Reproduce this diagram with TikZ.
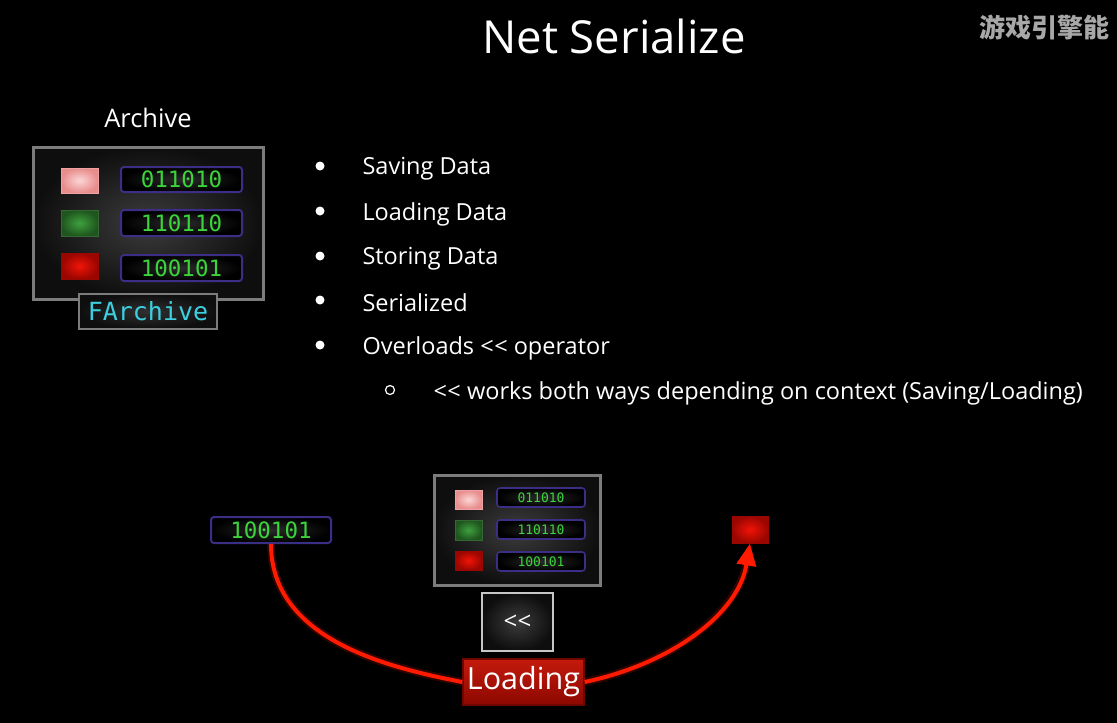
\documentclass[tikz,border=0pt]{standalone}
\usepackage{fontspec}
\setmainfont{Open Sans}
\setmonofont{DejaVu Sans Mono}
\newfontfamily\cjkfont{Noto Sans CJK SC}
\usetikzlibrary{arrows.meta}

\definecolor{framegray}{HTML}{7C7C7C}
\definecolor{panelmid}{HTML}{3C3C3C}
\definecolor{paneledge}{HTML}{0E0E0E}
\definecolor{cellborder}{HTML}{3A2E86}
\definecolor{cellmid}{HTML}{2A2A2A}
\definecolor{bitgreen}{HTML}{3BD43B}
\definecolor{clscyan}{HTML}{3CCFE0}
\definecolor{wirered}{HTML}{FF1A00}
\definecolor{pinkin}{HTML}{FBD6D6}
\definecolor{pinkout}{HTML}{E88C8C}
\definecolor{greenin}{HTML}{3FA03F}
\definecolor{greenout}{HTML}{1E561E}
\definecolor{redin}{HTML}{F01408}
\definecolor{redout}{HTML}{9A0600}
\definecolor{loadtop}{HTML}{C41A0C}
\definecolor{loadbot}{HTML}{8C0800}
\definecolor{markgray}{HTML}{A8A8A8}

% two plain less-than signs, kept apart so the font does not join them
\newcommand{\shl}{{<}\kern0.5pt{<}}

\tikzset{
  panel/.style={draw=framegray, line width=3pt, inner color=panelmid, outer color=paneledge, inner sep=0pt},
  cell/.style={draw=cellborder, line width=2pt, rounded corners=3pt, inner color=cellmid, outer color=black,
               text=bitgreen, inner sep=0pt},
  bigbits/.style={cell, font=\ttfamily\fontsize{22.5}{22}\selectfont},
  smallbits/.style={cell, line width=1.6pt, font=\ttfamily\fontsize{13}{13}\selectfont},
  pinkchip/.style={draw=pinkout!80!white, line width=1pt, inner color=pinkin, outer color=pinkout, inner sep=0pt},
  greenchip/.style={draw=greenout!90!white, line width=1pt, inner color=greenin, outer color=greenout, inner sep=0pt},
  redchip/.style={draw=redout, line width=1pt, inner color=redin, outer color=redout, inner sep=0pt},
  bullettext/.style={anchor=west, text=white, font=\fontsize{23.5}{26}\selectfont},
  bulletdot/.style={circle, fill=white, minimum size=9pt, inner sep=0pt},
  subdot/.style={circle, draw=white, line width=1.2pt, minimum size=9pt, inner sep=0pt},
  wire/.style={draw=wirered, line width=4pt},
  glow/.style={draw=wirered, line width=8pt, opacity=0.18},
  loadbox/.style={draw=loadbot!80!black, line width=1.5pt, top color=loadtop, bottom color=loadbot,
      minimum width=121pt, minimum height=46pt, inner sep=0pt, text=white,
      font=\fontsize{30.5}{31}\selectfont},
}

\begin{document}
\begin{tikzpicture}[x=1pt,y=-1pt]
\useasboundingbox (0,0) rectangle (1117,723);
\fill[black] (0,0) rectangle (1117,723);

% heading and corner mark
\node[text=white, font=\fontsize{45.5}{48}\selectfont] (title) at (614,36) {Net Serialize};
\node[anchor=west, text=markgray, font=\cjkfont\bfseries\fontsize{26}{26}\selectfont] (mark) at (976,27) {游戏引擎能};

% large archive panel
\node[text=white, font=\fontsize{25.5}{28}\selectfont] (archlabel) at (148,118) {Archive};
\node[panel, minimum width=230pt, minimum height=152pt] (arch) at (148,223) {};
\node[pinkchip,  minimum width=37pt, minimum height=25pt] (p1) at (79.5,180.5) {};
\node[greenchip, minimum width=37pt, minimum height=26pt] (g1) at (79.5,223) {};
\node[redchip,   minimum width=37pt, minimum height=26pt] (r1) at (79.5,266) {};
\node[bigbits, minimum width=121pt, minimum height=25pt] (v1) at (181.5,179.5) {011010};
\node[bigbits, minimum width=121pt, minimum height=26pt] (v2) at (181.5,223) {110110};
\node[bigbits, minimum width=121pt, minimum height=26pt] (v3) at (181.5,268) {100101};
\node[draw=framegray, line width=2.5pt, inner color=panelmid!80!black, outer color=paneledge,
      minimum width=138pt, minimum height=35pt, inner sep=0pt, text=clscyan,
      font=\ttfamily\fontsize{25}{25}\selectfont] (farch) at (148,311.5) {FArchive};

% bullet list
\node[bulletdot] (d1) at (320,166) {};
\node[bullettext] (t1) at (359,169) {Saving Data};
\node[bulletdot] (d2) at (320,211) {};
\node[bullettext] (t2) at (359,214) {Loading Data};
\node[bulletdot] (d3) at (320,256) {};
\node[bullettext] (t3) at (359,259) {Storing Data};
\node[bulletdot] (d4) at (320,300) {};
\node[bullettext] (t4) at (359,303) {Serialized};
\node[bulletdot] (d5) at (320,345) {};
\node[bullettext] (t5) at (359,348) {Overloads \shl{} operator};
\node[subdot] (s1) at (390,390) {};
\node[bullettext] (t6) at (430,393) {\shl{} works both ways depending on context (Saving/Loading)};

% small archive panel
\node[panel, minimum width=166pt, minimum height=110pt] (sarch) at (517,530) {};
\node[pinkchip,  minimum width=27pt, minimum height=19pt] (p2) at (468.5,499.5) {};
\node[greenchip, minimum width=27pt, minimum height=20pt] (g2) at (468.5,530) {};
\node[redchip,   minimum width=27pt, minimum height=19pt] (r2) at (468.5,560.5) {};
\node[smallbits, minimum width=88pt, minimum height=19pt] (w1) at (541,497.5) {011010};
\node[smallbits, minimum width=88pt, minimum height=19pt] (w2) at (541,529.5) {110110};
\node[smallbits, minimum width=88pt, minimum height=19pt] (w3) at (541,561.5) {100101};

% operator box
\node[draw=black!22!white, line width=1.5pt, inner color=panelmid, outer color=paneledge,
      minimum width=71pt, minimum height=58pt, inner sep=0pt, text=white,
      font=\fontsize{24}{24}\selectfont] (op) at (517.5,622) {\shl};

% loading flow
\node[bigbits, minimum width=120pt, minimum height=26pt] (src) at (271,530) {100101};
\node[redchip, minimum width=36pt, minimum height=27pt] (dst) at (750,529.5) {};
\node[loadbox] (load) at (523.5,682) {Loading};

\path[glow] (src.south) .. controls (271,640) and (390,668) .. (load.west);
\path[glow, shorten >=18pt] (load.east) .. controls (670,664) and (738,615) .. (dst.south);
\path[wire] (src.south) .. controls (271,640) and (390,668) .. (load.west);
\path[wire, -{Triangle[length=22pt,width=19pt]}] (load.east) .. controls (670,664) and (738,615) .. (dst.south);
\end{tikzpicture}
\end{document}
